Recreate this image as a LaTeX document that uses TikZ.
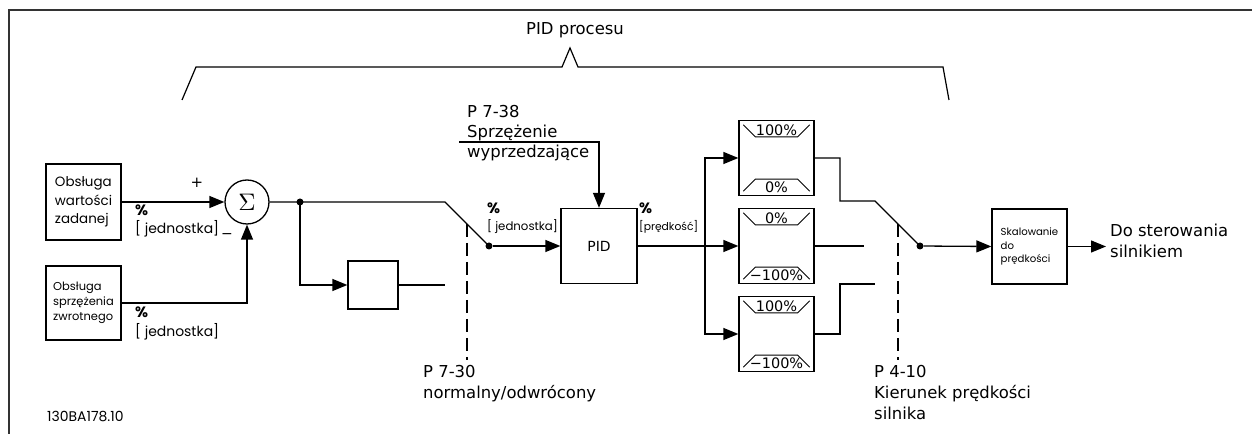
\documentclass[tikz,border=0pt]{standalone}
\usepackage{graphicx}
\usepackage{fontspec}
\setmainfont{DejaVu Sans}
\newfontfamily\cad{Poppins}
\usetikzlibrary{arrows.meta,calc}
\tikzset{
 ln/.style={line width=1.3bp},
 blk/.style={draw, line width=1.3bp, inner sep=0pt},
 arr/.style={-{Triangle[length=15bp,width=12bp]}},
 dsh/.style={dash pattern=on 13bp off 6bp, line width=1.1bp},
 jdot/.style={circle, fill, inner sep=0pt, minimum size=7bp},
 txt/.style={inner sep=0pt, anchor=base west, font=\fontsize{16.5}{20}\selectfont},
 cadl/.style={inner sep=0pt, anchor=base west, font=\cad\fontsize{14}{16}\selectfont},
 cads/.style={inner sep=0pt, anchor=base west, font=\cad\fontsize{11.8}{14}\selectfont},
 pcts/.style={inner sep=0pt, anchor=base west, font=\cad\bfseries\fontsize{15}{15}\selectfont},
 pct/.style={inner sep=0pt, font=\fontsize{14.5}{14.5}\selectfont},
 brk/.style={line width=1bp},
}
\begin{document}
\begin{tikzpicture}[x=1bp,y=-1bp]
\useasboundingbox (0,0) rectangle (1252,434);
% frame
\draw[line width=2bp, black!80] (9,440) -- (9,10) -- (1260,10);
% brace
\draw[line width=1.2bp] (182,100) -- (196,67) -- (562,67) -- (570,48) -- (578,67) -- (943,67) -- (949,100);
\node[txt] (title) at (526,35) {PID procesu};

% input blocks
\node[blk, minimum width=75bp, minimum height=76bp, align=left, font=\cad\fontsize{13.5}{18.5}\selectfont] (ref) at (83.5,202) {Obsługa\\wartości\\zadanej};
\node[blk, minimum width=75bp, minimum height=74bp, align=left, font=\cad\fontsize{11.5}{14.8}\selectfont] (fb) at (83.5,303) {Obsługa\\sprzężenia\\zwrotnego};
\node[circle, draw, line width=1.3bp, minimum size=44bp, inner sep=0pt] (sum) at (247,202) {\scalebox{2.4}{$\Sigma$}};

\node[font=\fontsize{15}{15}\selectfont, inner sep=0pt] (plus) at (197,183) {+};
\node[font=\fontsize{14}{14}\selectfont, inner sep=0pt] (minus) at (227,236) {−};
\node[pcts] (p1) at (135,216) {\%};
\node[cadl] (u1) at (135,234) {[ jednostka]};
\node[pcts] (p2) at (135,318) {\%};
\node[cadl] (u2) at (135,337) {[ jednostka]};

\draw[ln,arr] (ref.east) -- (sum.west);
\draw[ln,arr] (fb.east) -| (sum.south);

% branch and switch 1
\node[jdot] (j1) at (300,202) {};
\node[blk, minimum width=50bp, minimum height=48bp] (hold) at (373,285) {};
\coordinate (hout) at (445,285);
\coordinate (s1a) at (445,202);
\node[jdot] (s1) at (489,246) {};
\draw[ln] (sum.east) -- (j1.center) -- (s1a) -- (s1.center);
\draw[ln,arr] (j1.center) |- (hold.west);
\draw[ln] (hold.east) -- (hout);
\coordinate (d1t) at (467,224);
\coordinate (d1b) at (467,360);
\draw[dsh] (d1t) -- (d1b);
\node[txt] (n730a) at (423,378) {P 7-30};
\node[txt] (n730b) at (423,399) {normalny/odwrócony};

% PID
\node[blk, minimum width=76bp, minimum height=75bp, font=\fontsize{14}{14}\selectfont] (pid) at (599,246) {PID};
\node[pcts] (p3) at (487,214) {\%};
\node[cads] (u3) at (487,231) {[ jednostka]};
\node[pcts] (p4) at (639,214) {\%};
\node[cads] (u4) at (639,231) {\fontsize{10.8}{14}\selectfont[prędkość]};
\draw[ln,arr] (s1) -- (pid.west);
\node[txt] (n738a) at (467,118) {P 7-38};
\node[txt] (n738b) at (467,138) {Sprzężenie};
\node[txt] (n738c) at (467,158) {wyprzedzające};
\coordinate (ff) at (459,142);
\draw[ln,arr] (ff) -| (pid.north);

% limiters
\node[blk, minimum width=75bp, minimum height=75bp] (l1) at (776.5,158) {};
\node[blk, minimum width=75bp, minimum height=75bp] (l2) at (776.5,246) {};
\node[blk, minimum width=75bp, minimum height=75bp] (l3) at (776.5,334) {};
\coordinate (bus) at (705,246);
\draw[ln,arr] (pid.east) -- (l2.west);
\draw[ln,arr] (bus) |- (l1.west);
\draw[ln,arr] (bus) |- (l3.west);
\foreach \b/\t/\u in {l1/100\%/0\%, l2/0\%/−100\%, l3/100\%/−100\%}{
  \draw[brk] ($(\b.north west)+(5,5)$) -- ($(\b.north west)+(17,17)$) -- ($(\b.north east)+(-17,17)$) -- ($(\b.north east)+(-5,5)$);
  \draw[brk] ($(\b.south west)+(5,-5)$) -- ($(\b.south west)+(17,-17)$) -- ($(\b.south east)+(-17,-17)$) -- ($(\b.south east)+(-5,-5)$);
  \node[pct] at ($(\b.north)+(0,10)$) {\t};
  \node[pct] at ($(\b.south)+(0,-9)$) {\u};
}

% switch 2
\node[jdot] (s2) at (920,246) {};
\coordinate (o1) at (840,201);
\coordinate (s2a) at (875,201);
\coordinate (o2) at (864,246);
\coordinate (o3) at (840,284);
\coordinate (o3b) at (875,284);
\draw[ln] (l1.east) -| (o1) -- (s2a) -- (s2.center);
\draw[ln] (l2.east) -- (o2);
\draw[ln] (l3.east) -| (o3) -- (o3b);
\coordinate (d2t) at (898,224);
\coordinate (d2b) at (898,360);
\draw[dsh] (d2t) -- (d2b);
\node[txt] (n410a) at (874,378) {P 4-10};
\node[txt] (n410b) at (874,399) {Kierunek prędkości};
\node[txt] (n410c) at (874,420) {silnika};

% scaling and output
\node[blk, minimum width=75bp, minimum height=75bp, align=left, font=\cad\fontsize{10.2}{13.5}\selectfont] (scl) at (1029.5,246.5) {Skalowanie\\do\\prędkości};
\draw[ln,arr] (s2) -- (scl.west);
\coordinate (outp) at (1106,246.5);
\draw[ln,arr] (scl.east) -- (outp);
\node[txt] (outa) at (1110,237) {Do sterowania};
\node[txt] (outb) at (1110,258) {silnikiem};

\node[inner sep=0pt, anchor=base west, font=\cad\fontsize{14}{14}\selectfont] (code) at (47,422) {130BA178.10};
\end{tikzpicture}
\end{document}
